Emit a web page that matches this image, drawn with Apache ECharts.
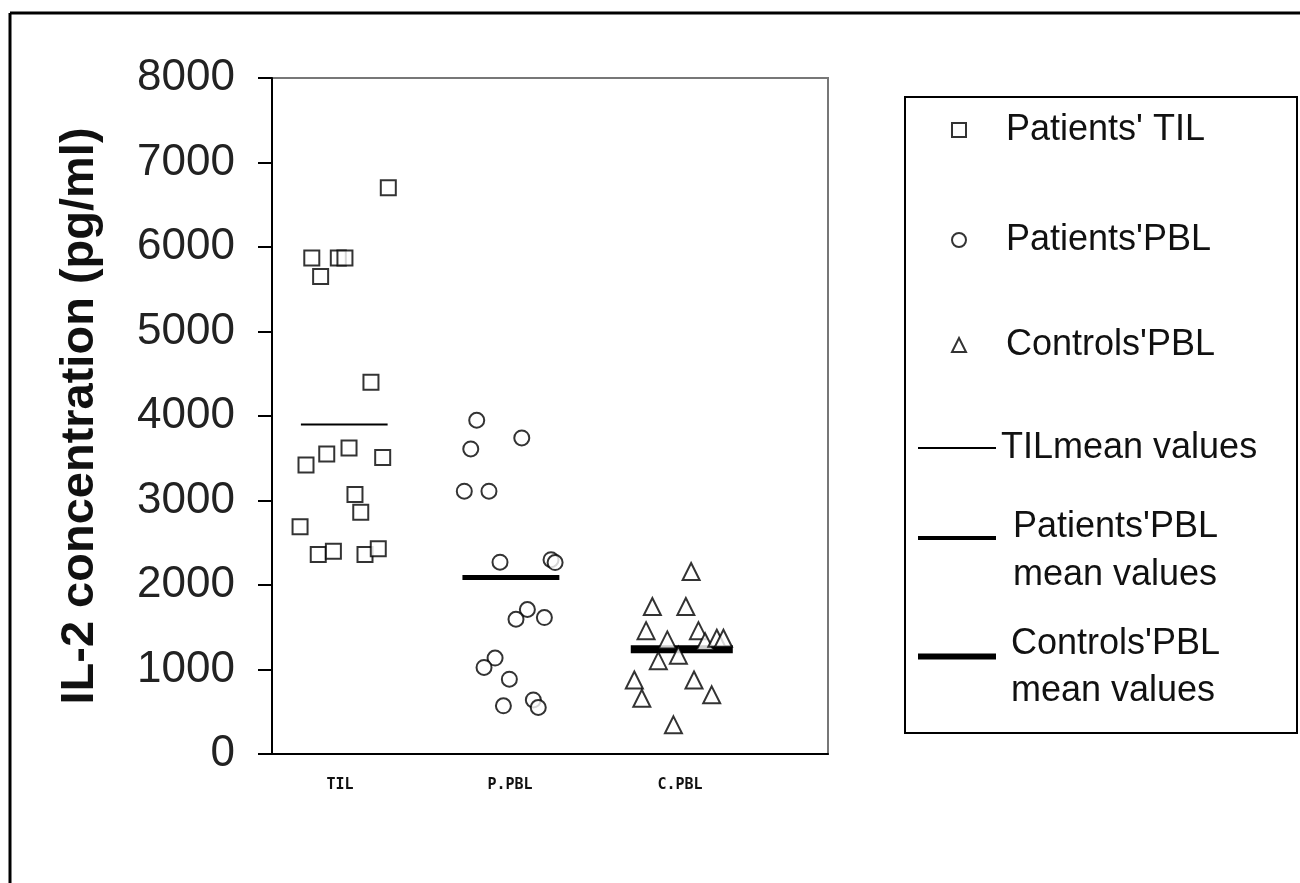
<!DOCTYPE html>
<html>
<head>
<meta charset="utf-8">
<script src="https://cdn.jsdelivr.net/npm/echarts@6/dist/echarts.min.js"></script>
<style>html,body{margin:0;padding:0;background:#fff;}#chart{width:1300px;height:883px;}</style>
</head>
<body>
<div id="chart"></div>
<script>
// ---- data ----
const categories = ['TIL', 'P.PBL', 'C.PBL'];
const categoryPos = [1, 2, 3];

// Patients' TIL (horizontal jitter position, IL-2 pg/ml)
const tilX = [1.284, 0.834, 0.990, 1.029, 0.886, 1.182, 0.800, 0.922, 1.053, 1.251, 1.088, 1.122, 0.765, 0.872, 0.961, 1.147, 1.225];
const tilY = [6700, 5870, 5870, 5870, 5650, 4400, 3420, 3550, 3620, 3510, 3070, 2860, 2690, 2360, 2400, 2360, 2430];

// Patients' PBL
const ppblX = [1.804, 1.769, 2.069, 1.731, 1.876, 1.941, 2.241, 2.265, 2.102, 2.035, 2.202, 1.912, 1.847, 1.996, 1.961, 2.137, 2.166];
const ppblY = [3950, 3610, 3740, 3110, 3110, 2270, 2300, 2265, 1710, 1595, 1615, 1135, 1025, 885, 570, 640, 550];

// Controls' PBL
const cpblX = [3.065, 2.837, 3.034, 2.800, 2.925, 3.108, 3.147, 3.216, 3.255, 2.872, 2.990, 2.731, 3.082, 2.775, 3.186, 2.961];
const cpblY = [2160, 1745, 1745, 1460, 1350, 1460, 1330, 1370, 1370, 1105, 1170, 875, 875, 660, 700, 345];

// mean values and the horizontal extent of each mean bar
const meanValues = [3900, 2090, 1240];
const meanStartX = [0.77, 1.72, 2.71];
const meanEndX = [1.28, 2.29, 3.31];

const seriesNames = ["Patients' TIL", "Patients'PBL", "Controls'PBL",
  'TILmean values', "Patients'PBL mean values", "Controls'PBL mean values"];
const legendLabels = ["Patients' TIL", "Patients'PBL", "Controls'PBL",
  'TILmean values', ["Patients'PBL", 'mean values'], ["Controls'PBL", 'mean values']];

// ---- chart ----
function pairs(xs, ys) { return xs.map((x, i) => [x, ys[i]]); }
const markerStyle = { color: '#fff', borderColor: '#000', borderWidth: 2 };
const font = 'Liberation Sans, Arial, sans-serif';

const chart = echarts.init(document.getElementById('chart'), null, { renderer: 'canvas' });

const legendText = { fontFamily: font, fontSize: 36, color: '#111' };
function markerLegend(idx, top) {
  return {
    data: [seriesNames[idx]], left: 951, top: top, padding: 0,
    itemWidth: 14, itemHeight: 14, selectedMode: false,
    itemStyle: markerStyle,
    formatter: () => legendLabels[idx],
    textStyle: Object.assign({ lineHeight: 40, padding: [0, 0, 0, 35] }, legendText)
  };
}
function lineLegend(idx, top, width, lh, lead, padLeft) {
  const lbl = legendLabels[idx];
  const isMulti = Array.isArray(lbl);
  return {
    data: [seriesNames[idx]], left: 918, top: top, padding: 0,
    icon: 'rect', itemWidth: 78, itemHeight: width, selectedMode: false,
    itemStyle: { color: '#000', borderWidth: 0 },
    formatter: () => isMulti ? '{a| }\n{b|' + lbl[0] + '}\n{b|' + lbl[1] + '}' : lbl,
    textStyle: Object.assign({
      lineHeight: lh, padding: [0, 0, 0, padLeft],
      rich: {
        a: { fontSize: 10, lineHeight: lead },
        b: Object.assign({ lineHeight: lh }, legendText)
      }
    }, legendText)
  };
}

const option = {
  animation: false,
  backgroundColor: '#fff',
  grid: {
    left: 272, top: 78, width: 556, height: 676,
    show: true, borderColor: '#777', borderWidth: 2, backgroundColor: 'transparent'
  },
  xAxis: {
    type: 'value', min: 0.6, max: 3.87,
    splitLine: { show: false },
    axisLine: { show: true, onZero: false, lineStyle: { color: '#000', width: 2 } },
    axisTick: { show: false },
    axisLabel: {
      customValues: categoryPos,
      formatter: v => categories[Math.round(v) - 1] || '',
      fontFamily: 'DejaVu Sans Mono, monospace', fontWeight: 'bold', fontSize: 15,
      color: '#111', margin: 24
    }
  },
  yAxis: {
    type: 'value', min: 0, max: 8000, interval: 1000,
    name: 'IL-2 concentration (pg/ml)',
    nameLocation: 'middle', nameGap: 168,
    nameTextStyle: { fontFamily: font, fontWeight: 'bold', fontSize: 47, color: '#111' },
    splitLine: { show: false },
    axisLine: { show: true, lineStyle: { color: '#000', width: 2 } },
    axisTick: { show: true, length: 14, lineStyle: { color: '#000', width: 2 } },
    axisLabel: { fontFamily: font, fontSize: 44, color: '#222', margin: 37, formatter: v => String(v) }
  },
  legend: [
    markerLegend(0, 110),
    markerLegend(1, 220),
    markerLegend(2, 325),
    lineLegend(3, 428, 2, 40, 0, 0),
    lineLegend(4, 477, 4, 48, 26, 12),
    lineLegend(5, 598, 6, 47, 23, 10)
  ],
  graphic: [
    { type: 'line', shape: { x1: 10, y1: 13, x2: 1300, y2: 13 }, style: { stroke: '#000', lineWidth: 3 } },
    { type: 'line', shape: { x1: 10, y1: 13, x2: 10, y2: 883 }, style: { stroke: '#000', lineWidth: 3 } },
    { type: 'rect', shape: { x: 905, y: 97, width: 392, height: 636 }, style: { fill: 'none', stroke: '#000', lineWidth: 2 } }
  ],
  series: [
    { name: seriesNames[0], type: 'scatter', symbol: 'rect', symbolSize: 15, itemStyle: markerStyle, data: pairs(tilX, tilY), z: 3 },
    { name: seriesNames[1], type: 'scatter', symbol: 'circle', symbolSize: 15, itemStyle: markerStyle, data: pairs(ppblX, ppblY), z: 3 },
    { name: seriesNames[2], type: 'scatter', symbol: 'triangle', symbolSize: 17, itemStyle: markerStyle, data: pairs(cpblX, cpblY), z: 3 },
    { name: seriesNames[3], type: 'line', symbol: 'none', lineStyle: { color: '#000', width: 2 }, itemStyle: { color: '#000' },
      data: [[meanStartX[0], meanValues[0]], [meanEndX[0], meanValues[0]]], z: 2 },
    { name: seriesNames[4], type: 'line', symbol: 'none', lineStyle: { color: '#000', width: 5 }, itemStyle: { color: '#000' },
      data: [[meanStartX[1], meanValues[1]], [meanEndX[1], meanValues[1]]], z: 2 },
    { name: seriesNames[5], type: 'line', symbol: 'none', lineStyle: { color: '#000', width: 8 }, itemStyle: { color: '#000' },
      data: [[meanStartX[2], meanValues[2]], [meanEndX[2], meanValues[2]]], z: 2 }
  ]
};
chart.setOption(option);
</script>
</body>
</html>
